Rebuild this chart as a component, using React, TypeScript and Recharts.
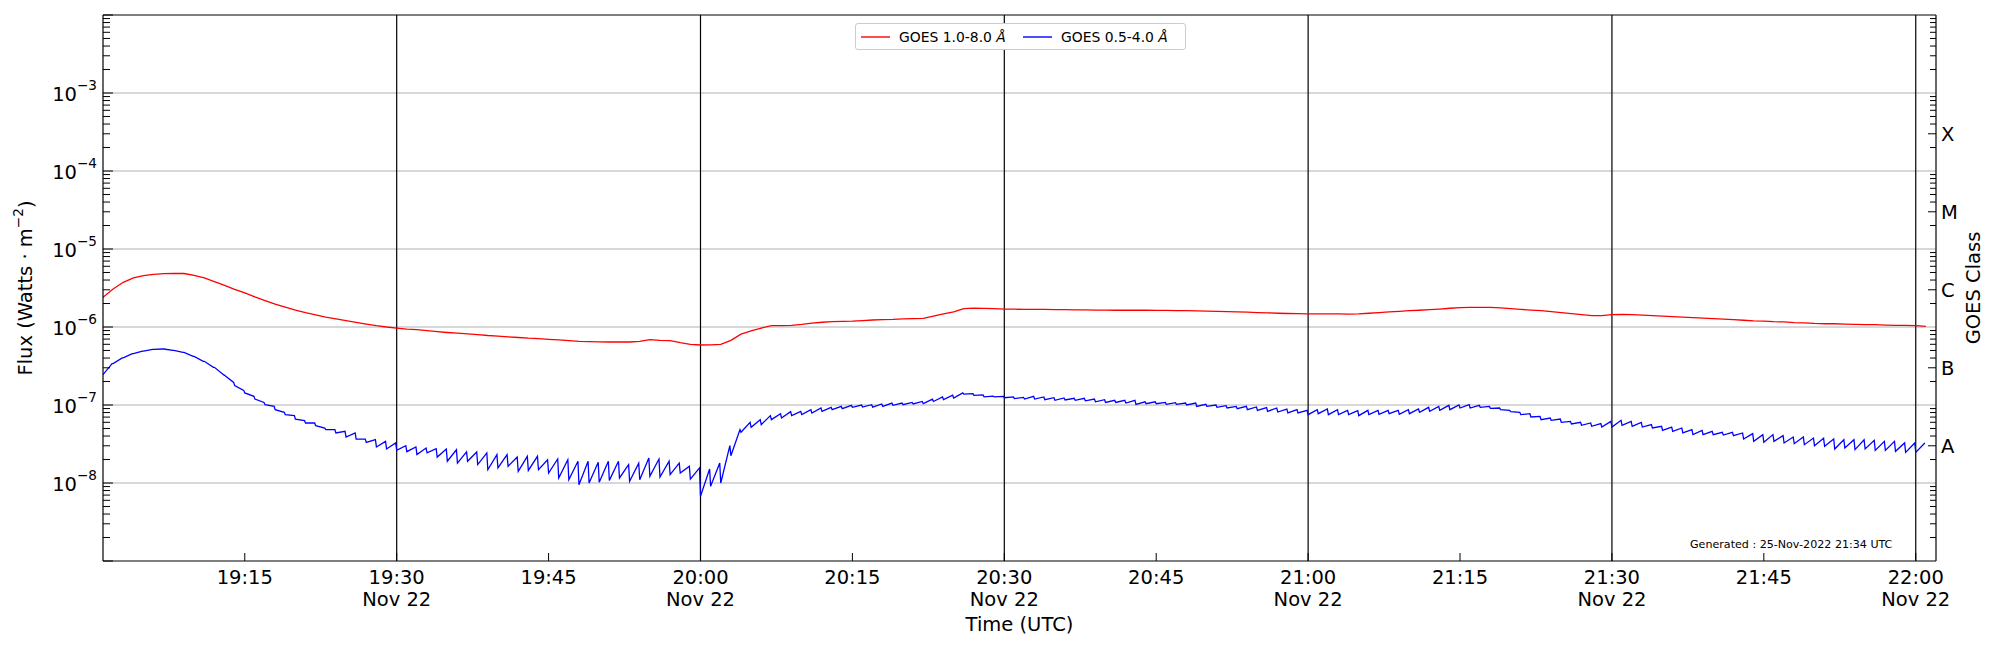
import React from 'react';
import { LineChart, Line, XAxis, YAxis, ReferenceLine, Legend, Label } from 'recharts';

const FONT = 'DejaVu Sans';

// minutes after 19:00 UTC, Nov 22 2022; first sample at 19:01
const START_MINUTE = 1;

const seriesNames = ['GOES 1.0-8.0 Å', 'GOES 0.5-4.0 Å'];

// GOES 1.0-8.0 Å, one sample per minute, in 1e-6 W/m²
const redFlux = [
  2.40, 3.07, 3.74, 4.25, 4.55, 4.73, 4.83, 4.88, 4.85, 4.60,
  4.25, 3.82, 3.42, 3.03, 2.73, 2.43, 2.18, 1.97, 1.80, 1.65,
  1.53, 1.43, 1.34, 1.27, 1.21, 1.15, 1.09, 1.04, 1.00, 0.97,
  0.94, 0.925, 0.897, 0.871, 0.85, 0.833, 0.817, 0.80, 0.778, 0.762,
  0.747, 0.733, 0.718, 0.71, 0.696, 0.683, 0.669, 0.656, 0.65, 0.643,
  0.642, 0.642, 0.642, 0.655, 0.688, 0.675, 0.668, 0.63, 0.60, 0.588,
  0.59, 0.60, 0.675, 0.81, 0.89, 0.97, 1.04, 1.04, 1.05, 1.08,
  1.12, 1.15, 1.17, 1.18, 1.19, 1.21, 1.23, 1.24, 1.25, 1.27,
  1.28, 1.29, 1.38, 1.47, 1.56, 1.72, 1.75, 1.73, 1.72, 1.70,
  1.69, 1.68, 1.68, 1.68, 1.67, 1.67, 1.66, 1.66, 1.65, 1.65,
  1.64, 1.64, 1.64, 1.64, 1.63, 1.63, 1.62, 1.62, 1.61, 1.60,
  1.59, 1.57, 1.56, 1.55, 1.53, 1.52, 1.50, 1.49, 1.48, 1.47,
  1.47, 1.47, 1.47, 1.46, 1.47, 1.50, 1.53, 1.56, 1.59, 1.62,
  1.64, 1.67, 1.70, 1.74, 1.77, 1.79, 1.79, 1.79, 1.76, 1.72,
  1.68, 1.65, 1.62, 1.57, 1.53, 1.48, 1.44, 1.40, 1.40, 1.44,
  1.45, 1.44, 1.42, 1.40, 1.38, 1.36, 1.34, 1.32, 1.30, 1.28,
  1.26, 1.24, 1.22, 1.20, 1.19, 1.17, 1.16, 1.14, 1.13, 1.11,
  1.10, 1.10, 1.09, 1.08, 1.07, 1.07, 1.06, 1.05, 1.05, 1.04,
  1.02,
];

// GOES 0.5-4.0 Å, value at the start and at the end of each minute, in 1e-8 W/m²
const blueStart = [
  24.5, 33.9, 40.1, 45.5, 49.2, 51.8, 52.2, 50.2, 47.3, 42.1,
  36.3, 30.4, 24.0, 17.7, 14.3, 11.9, 10.1, 8.7, 7.5, 6.6,
  5.88, 5.43, 4.83, 4.38, 3.89, 3.66, 3.32, 2.90, 2.73, 2.62,
  2.52, 2.31, 2.43, 2.15, 1.90, 1.80, 1.90, 1.72, 1.48, 1.56,
  1.64, 1.41, 1.45, 1.48, 1.34, 1.16, 1.10, 0.95, 1.00, 1.02,
  1.08, 1.16, 1.05, 1.10, 1.22, 1.19, 1.28, 1.34, 1.12, 0.675,
  0.906, 1.0, 2.24, 4.47, 5.18, 5.60, 6.49, 6.81, 7.30, 7.52,
  7.89, 8.29, 8.71, 8.97, 9.33, 9.4, 9.4, 9.6, 9.9, 10.1,
  10.3, 10.4, 11.1, 11.7, 12.3, 13.8, 13.3, 12.7, 12.7, 12.4,
  12.1, 11.9, 11.9, 11.7, 11.5, 11.6, 11.5, 11.3, 11.0, 10.8,
  10.8, 10.6, 10.2, 10.4, 10.4, 10.2, 10.2, 10.0, 9.6, 9.6,
  9.34, 9.15, 8.97, 8.71, 8.54, 8.29, 8.13, 7.90, 7.90, 7.52,
  7.74, 7.52, 7.52, 7.52, 7.30, 7.52, 7.59, 7.74, 7.59, 7.74,
  8.05, 8.29, 8.54, 8.71, 9.15, 9.15, 9.34, 9.06, 8.71, 8.21,
  7.52, 7.02, 6.49, 6.36, 6.00, 5.71, 5.49, 5.33, 5.22, 5.22,
  5.49, 5.33, 5.22, 5.07, 4.73, 4.60, 4.38, 4.17, 4.17, 4.17,
  4.12, 4.04, 3.66, 3.42, 3.32, 3.42, 3.26, 3.19, 3.10, 3.01,
  2.95, 2.73, 2.81, 2.68, 2.73, 2.62, 2.62, 2.55, 2.47, 2.47,
];
const blueEnd = [
  33.9, 40.1, 45.5, 49.2, 51.8, 52.2, 50.2, 47.3, 42.1, 36.3,
  30.4, 24.5, 19.5, 15.4, 12.9, 10.8, 9.6, 8.05, 7.3, 6.3,
  5.88, 5.07, 4.83, 4.6, 4.38, 3.66, 3.59, 3.42, 3.26, 3.01,
  2.90, 2.81, 2.75, 2.73, 2.67, 2.50, 2.50, 2.43, 2.31, 2.31,
  2.15, 2.20, 2.20, 1.99, 2.03, 1.99, 1.90, 1.90, 1.84, 1.90,
  1.90, 1.72, 1.80, 2.09, 2.03, 1.90, 1.80, 1.64, 1.56, 1.51,
  1.80, 3.01, 4.83, 6.0, 6.49, 7.30, 7.74, 8.21, 8.29, 8.71,
  9.15, 9.33, 9.6, 9.9, 10.0, 10.1, 10.3, 10.6, 10.6, 10.8,
  11.1, 11.9, 12.7, 13.4, 14.3, 14.0, 13.5, 13.0, 12.9, 12.7,
  12.5, 12.9, 12.7, 12.4, 12.3, 12.2, 12.2, 11.9, 11.7, 11.5,
  11.5, 11.5, 11.0, 11.0, 10.8, 10.7, 10.6, 10.6, 10.2, 10.0,
  9.8, 9.6, 9.6, 9.43, 9.24, 9.15, 8.88, 8.71, 8.54, 8.71,
  8.88, 8.71, 8.54, 8.46, 8.54, 8.54, 8.54, 8.54, 8.71, 8.88,
  9.34, 9.6, 9.9, 10.0, 10.1, 9.9, 9.6, 9.15, 8.54, 8.05,
  7.74, 7.16, 6.81, 6.61, 6.17, 6.00, 5.88, 5.77, 6.17, 6.36,
  6.17, 6.00, 5.60, 5.33, 5.22, 5.07, 4.83, 4.73, 4.60, 4.46,
  4.46, 4.38, 4.29, 4.17, 4.17, 4.04, 3.89, 3.89, 3.77, 3.74,
  3.66, 3.59, 3.59, 3.59, 3.52, 3.42, 3.42, 3.26, 3.26, 3.26,
];

const xTicks = [15, 30, 45, 60, 75, 90, 105, 120, 135, 150, 165, 180];
const xTickLabels = ['19:15', '19:30', '19:45', '20:00', '20:15', '20:30', '20:45', '21:00', '21:15', '21:30', '21:45', '22:00'];
const dateLabel = 'Nov 22';
const halfHours = [30, 60, 90, 120, 150, 180];

const decadeExponents = [-9, -8, -7, -6, -5, -4, -3, -2];
const labelledExponents = [-8, -7, -6, -5, -4, -3];
const minorSteps = [2, 3, 4, 5, 6, 7, 8, 9];
const goesClasses = ['A', 'B', 'C', 'M', 'X'];
const goesLevels = [3e-8, 3e-7, 3e-6, 3e-5, 3e-4];

const redSeries = redFlux.map((f, i) => ({ t: START_MINUTE + i, flux: f * 1e-6 }));
const blueSeries = blueStart.flatMap((f, i) => [
  { t: START_MINUTE + i, flux: f * 1e-8 },
  { t: START_MINUTE + i + 0.9, flux: blueEnd[i] * 1e-8 },
]);

const minorTicks = decadeExponents.slice(0, -1).flatMap((e) => minorSteps.map((s) => s * Math.pow(10, e)));
const leftTicks = [...decadeExponents.map((e) => Math.pow(10, e)), ...minorTicks];
const rightTicks = minorTicks;

const isDecade = (v: number) => Math.abs(Math.log10(v) - Math.round(Math.log10(v))) < 1e-6;

const FluxTick = ({ x, y, payload }: any) => {
  const v = payload.value;
  const major = isDecade(v);
  const e = Math.round(Math.log10(v));
  return (
    <g>
      <line x1={x} x2={x + (major ? 10 : 7)} y1={y} y2={y} stroke="#000" strokeWidth={1} />
      {major && labelledExponents.includes(e) && (
        <text x={x - 6} y={y + 1} textAnchor="end" dominantBaseline="central" fontFamily={FONT} fontSize={19.5} fill="#000">
          10
          <tspan dy={-9} fontSize={13.6}>{'\u2212' + Math.abs(e)}</tspan>
        </text>
      )}
    </g>
  );
};

const ClassTick = ({ x, y, payload }: any) => {
  const v = payload.value;
  const k = goesLevels.findIndex((l) => Math.abs(l - v) / l < 1e-6);
  return (
    <g>
      <line x1={x} x2={x - (k >= 0 ? 8 : 6)} y1={y} y2={y} stroke="#000" strokeWidth={1} />
      {k >= 0 && (
        <text x={x + 5} y={y + 1} textAnchor="start" dominantBaseline="central" fontFamily={FONT} fontSize={19.5} fill="#000">
          {goesClasses[k]}
        </text>
      )}
    </g>
  );
};

const TimeTick = ({ x, y, payload }: any) => {
  const i = xTicks.indexOf(payload.value);
  return (
    <g>
      <line x1={x} x2={x} y1={y} y2={y - 8} stroke="#000" strokeWidth={1} />
      <text x={x} y={y + 22.5} textAnchor="middle" fontFamily={FONT} fontSize={19.5} fill="#000">
        {xTickLabels[i]}
      </text>
      {halfHours.includes(payload.value) && (
        <text x={x} y={y + 44.5} textAnchor="middle" fontFamily={FONT} fontSize={19.5} fill="#000">
          {dateLabel}
        </text>
      )}
    </g>
  );
};

const LegendBox = ({ payload }: any) => {
  // keep the plotting order (red first) whatever order recharts hands over
  const items = [...(payload || [])].sort(
    (a: any, b: any) => seriesNames.indexOf(String(a.value)) - seriesNames.indexOf(String(b.value)),
  );
  return (
    <div
      style={{
        boxSizing: 'border-box',
        width: 331,
        height: 27,
        border: '1px solid #cccccc',
        borderRadius: 3,
        background: '#fff',
        display: 'flex',
        alignItems: 'center',
        paddingLeft: 5,
        fontFamily: FONT,
        fontSize: 13.9,
        color: '#000',
      }}
    >
      {items.map((entry: any, i: number) => {
        const name = String(entry.value);
        return (
          <div key={i} style={{ display: 'flex', alignItems: 'center', width: 176 }}>
            <svg width={29} height={4}>
              <line x1={0} x2={29} y1={2} y2={2} stroke={entry.color} strokeWidth={1.4} />
            </svg>
            <span style={{ marginLeft: 9, whiteSpace: 'nowrap' }}>
              {name.slice(0, -1)}
              <i>{name.slice(-1)}</i>
            </span>
          </div>
        );
      })}
    </div>
  );
};

export default function App() {
  return (
    <div style={{ position: 'absolute', left: 0, top: 0, width: 2000, height: 650, background: '#fff' }}>
      <LineChart width={2000} height={650} margin={{ top: 15, right: 0, bottom: 0, left: 0 }}>
        {labelledExponents.map((e) => (
          <ReferenceLine key={`g${e}`} yAxisId="left" y={Math.pow(10, e)} stroke="#b0b0b0" strokeWidth={1} />
        ))}
        {halfHours.map((m) => (
          <ReferenceLine key={`v${m}`} yAxisId="left" x={m} stroke="#000" strokeWidth={1.2} />
        ))}
        <ReferenceLine yAxisId="left" y={1e-2} stroke="#000" strokeWidth={1.2} />
        <XAxis
          dataKey="t"
          type="number"
          domain={[1, 182]}
          allowDataOverflow
          ticks={xTicks}
          interval={0}
          tick={(p: any) => <TimeTick {...p} />}
          tickLine={false}
          tickSize={0}
          tickMargin={0}
          height={89}
          axisLine={{ stroke: '#000', strokeWidth: 1.2 }}
        >
          <Label
            content={() => (
              <text x={1019.5} y={631} textAnchor="middle" fontFamily={FONT} fontSize={19.5} fill="#000">
                Time (UTC)
              </text>
            )}
          />
        </XAxis>
        <YAxis
          yAxisId="left"
          scale="log"
          domain={[1e-9, 1e-2]}
          allowDataOverflow
          ticks={leftTicks}
          interval={0}
          tick={(p: any) => <FluxTick {...p} />}
          tickLine={false}
          tickSize={0}
          tickMargin={0}
          width={103}
          axisLine={{ stroke: '#000', strokeWidth: 1.2 }}
        >
          <Label
            content={() => (
              <text
                x={25.5}
                y={288}
                transform="rotate(-90 25.5 288)"
                textAnchor="middle"
                dominantBaseline="central"
                fontFamily={FONT}
                fontSize={19.5}
                fill="#000"
              >
                Flux (Watts · m
                <tspan dy={-8} fontSize={13.6}>{'\u22122'}</tspan>
                <tspan dy={8}>)</tspan>
              </text>
            )}
          />
        </YAxis>
        <YAxis
          yAxisId="right"
          orientation="right"
          scale="log"
          domain={[1e-9, 1e-2]}
          allowDataOverflow
          ticks={rightTicks}
          interval={0}
          tick={(p: any) => <ClassTick {...p} />}
          tickLine={false}
          tickSize={0}
          tickMargin={0}
          width={64}
          axisLine={{ stroke: '#000', strokeWidth: 1.2 }}
        >
          <Label
            content={() => (
              <text
                x={1973}
                y={288}
                transform="rotate(-90 1973 288)"
                textAnchor="middle"
                dominantBaseline="central"
                fontFamily={FONT}
                fontSize={19.5}
                fill="#000"
              >
                GOES Class
              </text>
            )}
          />
        </YAxis>
        <Legend
          layout="horizontal"
          verticalAlign="middle"
          align="center"
          wrapperStyle={{ left: 855, top: 23, width: 331, height: 27 }}
          content={(p: any) => <LegendBox {...p} />}
        />
        <Line
          data={redSeries}
          dataKey="flux"
          name={seriesNames[0]}
          yAxisId="left"
          type="linear"
          stroke="#ff0000"
          strokeWidth={1.3}
          dot={false}
          activeDot={false}
          isAnimationActive={false}
        />
        <Line
          data={blueSeries}
          dataKey="flux"
          name={seriesNames[1]}
          yAxisId="right"
          type="linear"
          stroke="#0000ff"
          strokeWidth={1.3}
          dot={false}
          activeDot={false}
          isAnimationActive={false}
        />
      </LineChart>
      <div
        style={{
          position: 'absolute',
          left: 1690,
          top: 538,
          fontFamily: FONT,
          fontSize: 11.1,
          lineHeight: '14px',
          color: '#000',
          whiteSpace: 'nowrap',
        }}
      >
        Generated : 25-Nov-2022 21:34 UTC
      </div>
    </div>
  );
}
